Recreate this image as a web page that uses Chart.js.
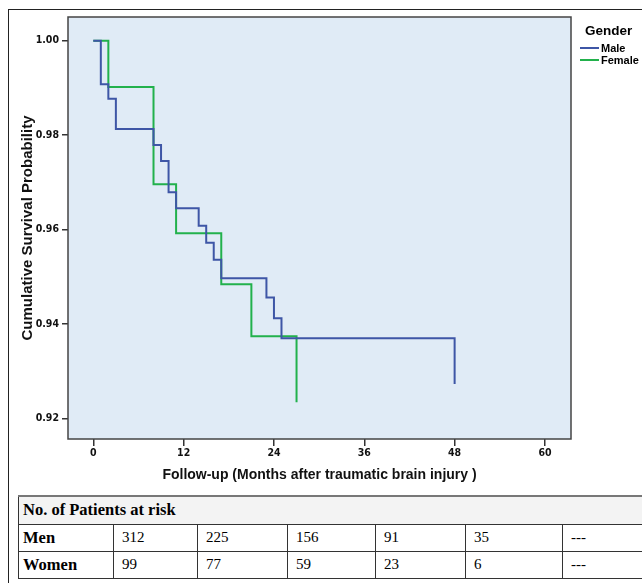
<!DOCTYPE html>
<html>
<head>
<meta charset="utf-8">
<script src="https://cdn.jsdelivr.net/npm/chart.js@4.4.1/dist/chart.umd.min.js"></script>
<style>
  body { margin: 0; background: #fff; width: 642px; height: 583px; overflow: hidden; position: relative; }
  #frame { position: absolute; left: 8px; top: 9px; width: 700px; height: 700px; border: 1px solid #222; box-sizing: border-box; }
  #chart { position: absolute; left: 0; top: 0; }
  #legend { position: absolute; left: 580px; top: 23px; font-family: "Liberation Sans", Arial, sans-serif; font-weight: bold; }
  #legend .title { font-size: 13.5px; margin-left: 5px; margin-bottom: 4px; }
  #legend .item { font-size: 11px; height: 12px; line-height: 12px; display: flex; align-items: center; }
  #legend .swatch { width: 19px; height: 2px; margin-right: 2px; }
  table { position: absolute; left: 18px; top: 495px; width: 634px; border-collapse: collapse; font-family: "Liberation Serif", "Times New Roman", serif; font-size: 15px; table-layout: fixed; }
  td { border: 1px solid #333; padding: 0 0 0 8px; height: 27px; box-sizing: border-box; }
  td.lab { font-weight: bold; font-size: 16.5px; padding-left: 4px; }
  tr.head td { background: #f3f3f3; font-weight: bold; font-size: 16.5px; padding-left: 4px; border-top: 2px solid #777; height: 28px; }
</style>
</head>
<body>
<div id="frame"></div>
<canvas id="chart" width="642" height="490" style="width:642px;height:490px"></canvas>
<div id="legend">
  <div class="title">Gender</div>
  <div class="item"><span class="swatch" style="background:#3e56a6"></span>Male</div>
  <div class="item"><span class="swatch" style="background:#22b14c"></span>Female</div>
</div>
<table id="risk"></table>
<script>
// Kaplan-Meier steps
const maleMonths = [0, 1, 2, 3, 8, 9, 10, 11, 14, 15, 16, 17, 23, 24, 25, 48];
const maleSurvival = [1, 0.9908, 0.9877, 0.9813, 0.9779, 0.9745, 0.9679, 0.9645, 0.9608, 0.9572, 0.9536, 0.9497, 0.9456, 0.9412, 0.937, 0.9273];
const femaleMonths = [0, 2, 8, 11, 17, 21, 27];
const femaleSurvival = [1, 0.9902, 0.9696, 0.9592, 0.9484, 0.9374, 0.9234];

const xTicks = [0, 12, 24, 36, 48, 60];
const yTicks = [0.92, 0.94, 0.96, 0.98, 1.0];

const riskMen = ["312", "225", "156", "91", "35", "---"];
const riskWomen = ["99", "77", "59", "23", "6", "---"];

const colWidths = [95, 84, 90, 88, 90, 97, 90];

// risk table
const table = document.getElementById("risk");
let html = "<colgroup>" + colWidths.map(w => `<col style="width:${w}px">`).join("") + "</colgroup>";
html += `<tr class="head"><td colspan="7">No. of Patients at risk</td></tr>`;
html += `<tr><td class="lab">Men</td>` + riskMen.map(v => `<td>${v}</td>`).join("") + "</tr>";
html += `<tr><td class="lab">Women</td>` + riskWomen.map(v => `<td>${v}</td>`).join("") + "</tr>";
table.innerHTML = html;

const plotBox = {
  id: "plotBox",
  beforeDraw(chart) {
    const { ctx, chartArea: a } = chart;
    ctx.save();
    ctx.fillStyle = "#e0ebf6";
    ctx.fillRect(a.left, a.top, a.right - a.left, a.bottom - a.top);
    ctx.restore();
  },
  afterDraw(chart) {
    const { ctx, chartArea: a } = chart;
    ctx.save();
    ctx.strokeStyle = "#444";
    ctx.lineWidth = 1.5;
    ctx.strokeRect(a.left, a.top, a.right - a.left, a.bottom - a.top);
    ctx.restore();
  }
};

const tickFont = { family: "'DejaVu Sans Condensed', 'Liberation Sans Narrow', sans-serif", size: 10.5, weight: "bold" };
const xTitleFont = { family: "'Liberation Sans', Arial, sans-serif", size: 14, weight: "bold" };
const yTitleFont = { family: "'Liberation Sans', Arial, sans-serif", size: 15, weight: "bold" };

new Chart(document.getElementById("chart").getContext("2d"), {
  type: "line",
  data: {
    datasets: [
      {
        label: "Male",
        data: maleMonths.map((m, i) => ({ x: m, y: maleSurvival[i] })),
        borderColor: "#3e56a6",
        borderWidth: 2,
        stepped: true,
        pointRadius: 0,
        fill: false,
      },
      {
        label: "Female",
        data: femaleMonths.map((m, i) => ({ x: m, y: femaleSurvival[i] })),
        borderColor: "#22b14c",
        borderWidth: 2,
        stepped: true,
        pointRadius: 0,
        fill: false,
      },
    ],
  },
  options: {
    responsive: false,
    animation: false,
    layout: { padding: { top: 17, right: 71, left: 0, bottom: 0 } },
    plugins: { legend: { display: false }, tooltip: { enabled: false } },
    scales: {
      x: {
        type: "linear",
        min: -3.36,
        max: 63.46,
        afterBuildTicks: (s) => { s.ticks = xTicks.map(v => ({ value: v })); },
        afterFit: (s) => { s.height = 51; },
        grid: { drawOnChartArea: false, drawTicks: true, tickLength: 7, color: "#333", lineWidth: 1.5 },
        border: { display: false },
        ticks: { font: tickFont, color: "#111", padding: 1, maxRotation: 0 },
        title: { display: true, text: "Follow-up (Months after traumatic brain injury )", font: xTitleFont, color: "#111", padding: { top: 0, bottom: 6 } },
      },
      y: {
        type: "linear",
        min: 0.91564,
        max: 1.00502,
        afterBuildTicks: (s) => { s.ticks = yTicks.map(v => ({ value: v })); },
        afterFit: (s) => { s.width = 68; },
        grid: { drawOnChartArea: false, drawTicks: true, tickLength: 6, color: "#333", lineWidth: 1.5 },
        border: { display: false },
        ticks: { font: tickFont, color: "#111", padding: 3, callback: (v) => v.toFixed(2) },
        title: { display: true, text: "Cumulative Survival Probability", font: yTitleFont, color: "#111", padding: { top: 19, bottom: 0 } },
      },
    },
  },
  plugins: [plotBox],
});
</script>
</body>
</html>
